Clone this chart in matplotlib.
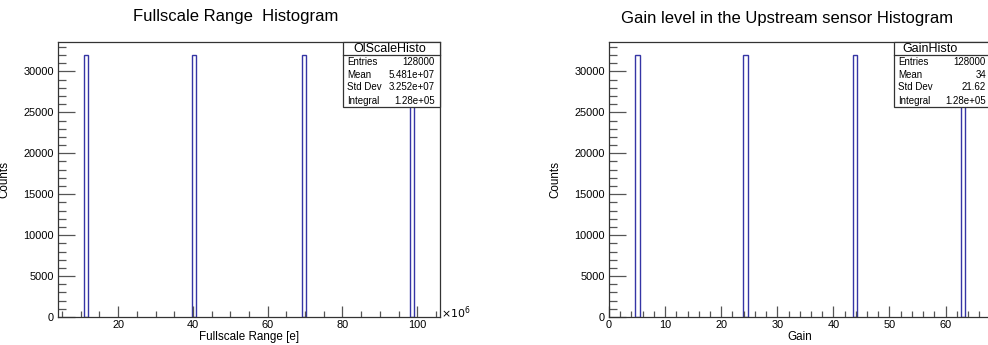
import numpy as np
import matplotlib
matplotlib.use("Agg")
import matplotlib.pyplot as plt
from matplotlib.ticker import MultipleLocator

plt.rcParams['font.family'] = ['Liberation Sans', 'DejaVu Sans']

# Fullscale range histogram (x in units of 1e6 e)
fs_centers = [11.5, 40.3, 69.8, 98.7]
fs_counts = [32000, 32000, 32000, 32000]
fs_width = 1.1
fs_stats_name = "OlScaleHisto"
fs_stats = [("Entries", "128000"), ("Mean", "5.481e+07"),
            ("Std Dev", "3.252e+07"), ("Integral", "1.28e+05")]

# Gain histogram
gain_centers = [5.1, 24.3, 43.9, 63.1]
gain_counts = [32000, 32000, 32000, 32000]
gain_width = 0.8
gain_stats_name = "GainHisto"
gain_stats = [("Entries", "128000"), ("Mean", "34"),
              ("Std Dev", "21.62"), ("Integral", "1.28e+05")]

W, H = 988, 345
fig = plt.figure(figsize=(W / 100, H / 100), dpi=100)
fig.patch.set_facecolor('white')

hist_color = '#3535a5'
frame_color = '#333333'


def px(x, y):
    return x / W, 1 - y / H


def style_axes(ax, xmajor, xminor):
    for s in ax.spines.values():
        s.set_color(frame_color)
        s.set_linewidth(0.9)
    ax.yaxis.set_major_locator(MultipleLocator(5000))
    ax.yaxis.set_minor_locator(MultipleLocator(1000))
    ax.xaxis.set_major_locator(MultipleLocator(xmajor))
    ax.xaxis.set_minor_locator(MultipleLocator(xminor))
    ax.tick_params(axis='both', which='both', direction='in', colors='#555555',
                   labelcolor='black', labelsize=7.9, top=False, right=False)
    ax.tick_params(axis='y', which='major', length=12, width=0.9, pad=3)
    ax.tick_params(axis='y', which='minor', length=6, width=0.9)
    ax.tick_params(axis='x', which='major', length=8, width=0.9, pad=2)
    ax.tick_params(axis='x', which='minor', length=4, width=0.9)
    ax.set_ylim(0, 33600)
    ax.set_ylabel("Counts", fontsize=8.4, labelpad=4)


def stats_box(name, rows, x0, x1, y0, y1, ysep, title_x, label_x, value_x, row_ys):
    fx0, fy0 = px(x0, y1)
    fx1, fy1 = px(x1, y0)
    rect = plt.Rectangle((fx0, fy0), fx1 - fx0, fy1 - fy0, transform=fig.transFigure,
                         facecolor='white', edgecolor=frame_color, linewidth=0.9, zorder=5)
    fig.add_artist(rect)
    sx0, sy = px(x0, ysep)
    sx1, _ = px(x1, ysep)
    fig.add_artist(plt.Line2D([sx0, sx1], [sy, sy], transform=fig.transFigure,
                              color=frame_color, linewidth=0.9, zorder=6))
    tx, ty = px(title_x, (y0 + ysep) / 2 + 1)
    fig.text(tx, ty, name, ha='center', va='center', fontsize=9, zorder=7)
    for (lab, val), ry in zip(rows, row_ys):
        lx, ly = px(label_x, ry)
        vx, _ = px(value_x, ry)
        fig.text(lx, ly, lab, ha='left', va='center', fontsize=7, zorder=7)
        fig.text(vx, ly, val, ha='right', va='center', fontsize=7, zorder=7)


# Left panel
l0, b0 = px(58, 317)
l1, b1 = px(440, 42)
ax1 = fig.add_axes([l0, b0, l1 - l0, b1 - b0])
ax1.bar(fs_centers, fs_counts, width=fs_width, fill=False,
        edgecolor=hist_color, linewidth=1.0)
ax1.set_xlim(3.9, 106.1)
style_axes(ax1, 20, 5)
ax1.set_xlabel("Fullscale Range [e]", fontsize=8.4, labelpad=1)
ax1.yaxis.set_label_coords(-0.125, 0.5)
ex, ey = px(441, 313)
fig.text(ex, ey, r"$\times10^{6}$", fontsize=7.8, ha='left', va='center')
tx, ty = px(236, 17)
fig.text(tx, ty, "Fullscale Range  Histogram", fontsize=12, ha='center', va='center')

# Right panel
r0, _ = px(609, 317)
r1, _ = px(991, 42)
ax2 = fig.add_axes([r0, b0, r1 - r0, b1 - b0])
ax2.bar(gain_centers, gain_counts, width=gain_width, fill=False,
        edgecolor=hist_color, linewidth=1.0)
ax2.set_xlim(0, 68.1)
style_axes(ax2, 10, 2)
ax2.set_xlabel("Gain", fontsize=8.4, labelpad=1)
ax2.yaxis.set_label_coords(-0.125, 0.5)
tx, ty = px(787, 18)
fig.text(tx, ty, "Gain level in the Upstream sensor Histogram", fontsize=12,
         ha='center', va='center')

row_ys = [62, 75, 87.5, 100.5]
stats_box(fs_stats_name, fs_stats, 343, 440, 42, 107, 54.5, 390, 347, 435, row_ys)
stats_box(gain_stats_name, gain_stats, 894, 991, 42, 107, 54.5, 930, 898, 986, row_ys)

fig.savefig("out.png", dpi=100)
